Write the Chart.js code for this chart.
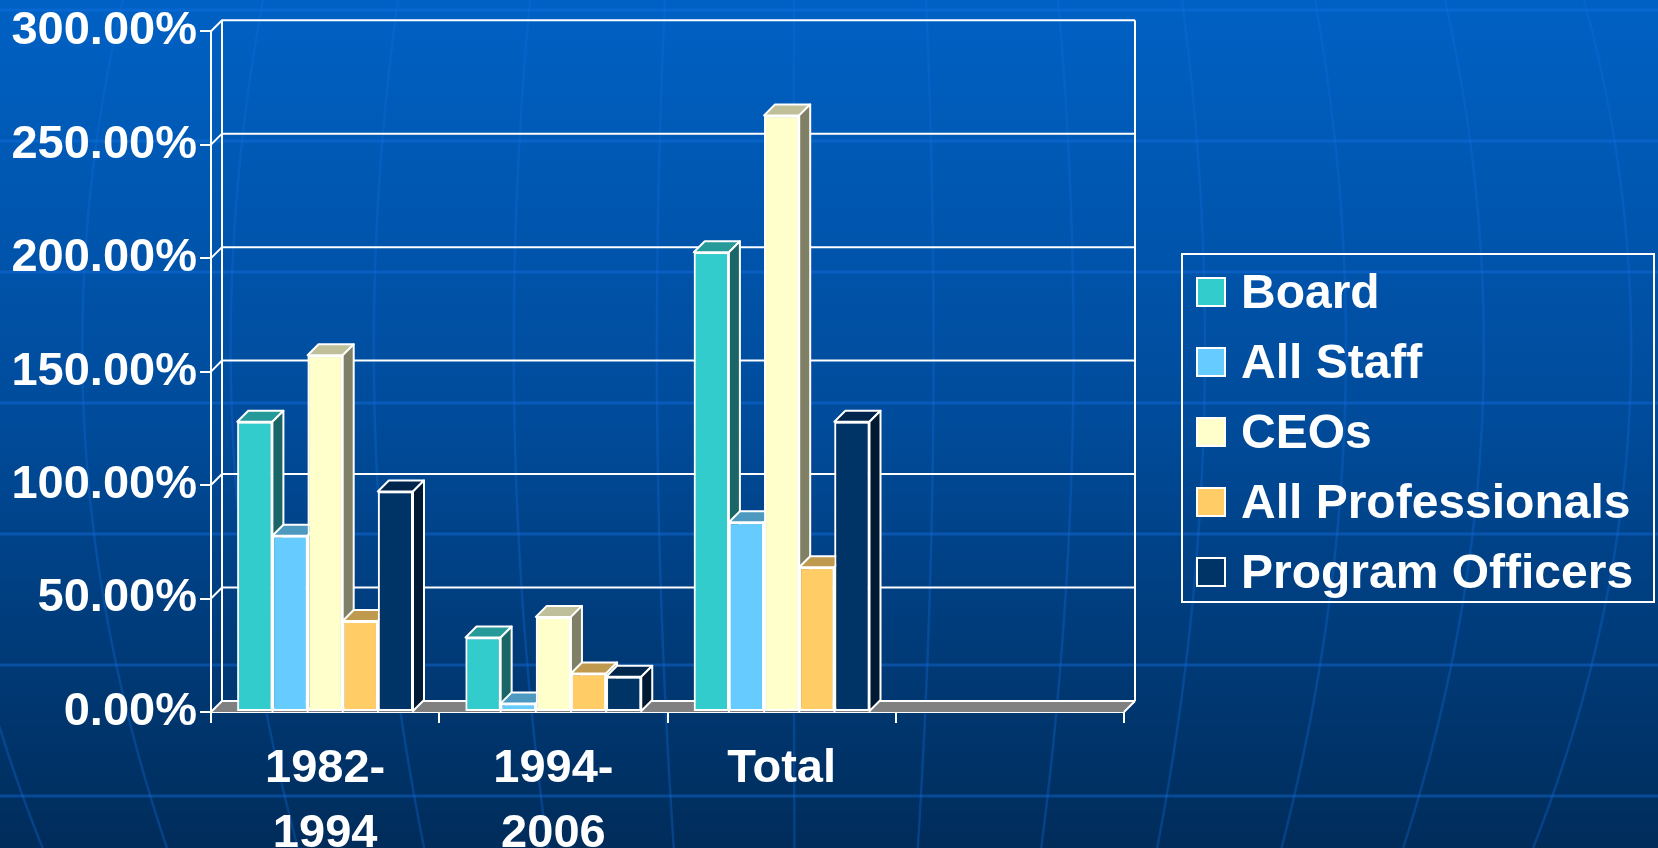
<!DOCTYPE html>
<html>
<head>
<meta charset="utf-8">
<script src="https://cdn.jsdelivr.net/npm/chart.js@4.4.1/dist/chart.umd.min.js"></script>
<style>
  html, body { margin: 0; padding: 0; background: #002c5a; }
  #wrap { position: relative; width: 1658px; height: 848px; overflow: hidden; }
  #legend {
    position: absolute; left: 1181px; top: 253px; width: 474px; height: 350px;
    box-sizing: border-box; border: 2px solid #fff; padding: 2px 0 0 13px;
    font-family: "Liberation Sans", Arial, sans-serif; font-weight: bold; font-size: 48px; color: #fff;
  }
  .item { height: 70px; display: flex; align-items: center; }
  .swatch { width: 30px; height: 30px; box-sizing: border-box; border: 2px solid #fff; margin-right: 15px; flex: none; }
  .item span { line-height: 48px; white-space: nowrap; }
</style>
</head>
<body>
<div id="wrap">
  <canvas id="myChart" width="1658" height="848"></canvas>
  <div id="legend"></div>
</div>
<script>
// data
var categories = [['1982-', '1994'], ['1994-', '2006'], 'Total', '']
var seriesNames = ['Board', 'All Staff', 'CEOs', 'All Professionals', 'Program Officers']
var board    = [127.9, 32.8, 202.6, null]
var allStaff = [77.7, 3.8, 83.6, null]
var ceos     = [157.2, 41.9, 262.9, null]
var allProf  = [40.1, 17.0, 63.8, null]
var progOff  = [97.2, 15.5, 127.9, null]
var yMin = 0, yMax = 300, yStep = 50

// front / top / side shades of each series
var frontColors = ['#33cccc', '#66ccff', '#ffffcc', '#ffcc66', '#003366']
var topColors   = ['#269999', '#4d99bf', '#bfbf99', '#bf994d', '#00264d']
var sideColors  = ['#1a6666', '#336680', '#808066', '#806633', '#001a33']
var DEPTH = 11
var FONT = '"Liberation Sans", Arial, sans-serif'

var allSeries = [board, allStaff, ceos, allProf, progOff]

var backdrop = {
    id: 'backdrop',
    beforeDraw: function(chart) {
        var ctx = chart.ctx, W = chart.width, H = chart.height
        ctx.save()
        var g = ctx.createLinearGradient(0, 0, 0, H)
        g.addColorStop(0, '#0061c4')
        g.addColorStop(0.5, '#004b9a')
        g.addColorStop(1, '#002c5a')
        ctx.fillStyle = g
        ctx.fillRect(0, 0, W, H)
        ctx.strokeStyle = 'rgba(20,115,230,0.4)'
        ctx.lineWidth = 3
        for (var y = 10; y < H; y += 131) {
            ctx.beginPath(); ctx.moveTo(0, y); ctx.lineTo(W, y); ctx.stroke()
        }
        // globe meridians, just decoration
        ctx.strokeStyle = 'rgba(20,110,220,0.32)'
        ctx.lineWidth = 2.5
        var meridians = [-10, 123, 263, 398, 530, 665, 794, 926, 1058, 1182, 1315, 1445, 1584]
        meridians.forEach(function(x0) {
            var d = x0 - 800
            ctx.beginPath()
            for (var yy = 0; yy <= H; yy += 8) {
                var t = yy / H
                var x = x0 + d * (0.294 * t - 0.359 * t * t)
                if (yy === 0) ctx.moveTo(x, yy); else ctx.lineTo(x, yy)
            }
            ctx.stroke()
        })
        ctx.restore()
    }
}

var walls = {
    id: 'walls',
    beforeDatasetsDraw: function(chart) {
        var ctx = chart.ctx, a = chart.chartArea, ys = chart.scales.y, d = DEPTH
        ctx.save()
        ctx.fillStyle = '#808080'
        ctx.beginPath()
        ctx.moveTo(a.left, a.bottom)
        ctx.lineTo(a.right, a.bottom)
        ctx.lineTo(a.right + d, a.bottom - d)
        ctx.lineTo(a.left + d, a.bottom - d)
        ctx.closePath()
        ctx.fill()
        ctx.strokeStyle = '#fff'
        ctx.lineWidth = 2
        ctx.beginPath()
        ys.ticks.forEach(function(t) {
            var py = ys.getPixelForValue(t.value)
            ctx.moveTo(a.left, py)
            ctx.lineTo(a.left + d, py - d)
            ctx.lineTo(a.right + d, py - d)
        })
        ctx.moveTo(a.left + d, a.top - d); ctx.lineTo(a.left + d, a.bottom - d)
        ctx.moveTo(a.right + d, a.top - d); ctx.lineTo(a.right + d, a.bottom - d)
        ctx.moveTo(a.right, a.bottom); ctx.lineTo(a.right + d, a.bottom - d)
        ctx.stroke()
        ctx.restore()
    }
}

function poly(ctx, pts, fill) {
    ctx.beginPath()
    ctx.moveTo(pts[0][0], pts[0][1])
    for (var i = 1; i < pts.length; i++) ctx.lineTo(pts[i][0], pts[i][1])
    ctx.closePath()
    ctx.fillStyle = fill
    ctx.fill()
    ctx.stroke()
}

var faces = {
    id: 'faces',
    afterDatasetsDraw: function(chart) {
        var ctx = chart.ctx, d = DEPTH
        ctx.save()
        ctx.strokeStyle = '#fff'
        ctx.lineWidth = 2
        ctx.lineJoin = 'round'
        categories.forEach(function(c, i) {
            chart.data.datasets.forEach(function(ds, k) {
                if (ds.data[i] == null) return
                var bar = chart.getDatasetMeta(k).data[i]
                var p = bar.getProps(['x', 'y', 'base', 'width'], true)
                var l = p.x - p.width / 2, r = p.x + p.width / 2
                poly(ctx, [[l, p.y], [r, p.y], [r + d, p.y - d], [l + d, p.y - d]], topColors[k])
                poly(ctx, [[r, p.y], [r + d, p.y - d], [r + d, p.base - d], [r, p.base]], sideColors[k])
                bar.draw(ctx)
            })
        })
        ctx.restore()
    }
}

var datasets = seriesNames.map(function(name, k) {
    return {
        label: name,
        data: allSeries[k],
        backgroundColor: frontColors[k],
        borderColor: '#ffffff',
        borderWidth: 2,
        borderSkipped: false,
        barPercentage: 1.0,
        categoryPercentage: 0.77
    }
})

var ctx = document.getElementById('myChart').getContext('2d')
var myChart = new Chart(ctx, {
    type: 'bar',
    data: { labels: categories, datasets: datasets },
    options: {
        responsive: false,
        animation: false,
        layout: { padding: { top: 29, right: 534, left: 0, bottom: 0 } },
        scales: {
            y: {
                min: yMin,
                max: yMax,
                ticks: {
                    stepSize: yStep,
                    color: '#fff',
                    padding: 3,
                    font: { family: FONT, size: 47, weight: 'bold' },
                    callback: function(v) { return v.toFixed(2) + '%' }
                },
                grid: { drawOnChartArea: false, color: '#fff', lineWidth: 2, tickLength: 11 },
                border: { color: '#fff', width: 2 },
                afterFit: function(s) { s.width = 211 }
            },
            x: {
                ticks: {
                    color: '#fff',
                    padding: 14,
                    maxRotation: 0,
                    autoSkip: false,
                    font: { family: FONT, size: 47, weight: 'bold', lineHeight: 1.38 }
                },
                grid: { drawOnChartArea: false, color: '#fff', lineWidth: 2, tickLength: 11 },
                border: { color: '#fff', width: 2 },
                afterFit: function(s) { s.height = 136 }
            }
        },
        plugins: {
            legend: { display: false },
            tooltip: { enabled: false }
        }
    },
    plugins: [backdrop, walls, faces]
})

// legend built from the same series
var legend = document.getElementById('legend')
seriesNames.forEach(function(name, k) {
    var row = document.createElement('div')
    row.className = 'item'
    var sw = document.createElement('div')
    sw.className = 'swatch'
    sw.style.background = frontColors[k]
    var txt = document.createElement('span')
    txt.textContent = name
    row.appendChild(sw)
    row.appendChild(txt)
    legend.appendChild(row)
})
</script>
</body>
</html>
